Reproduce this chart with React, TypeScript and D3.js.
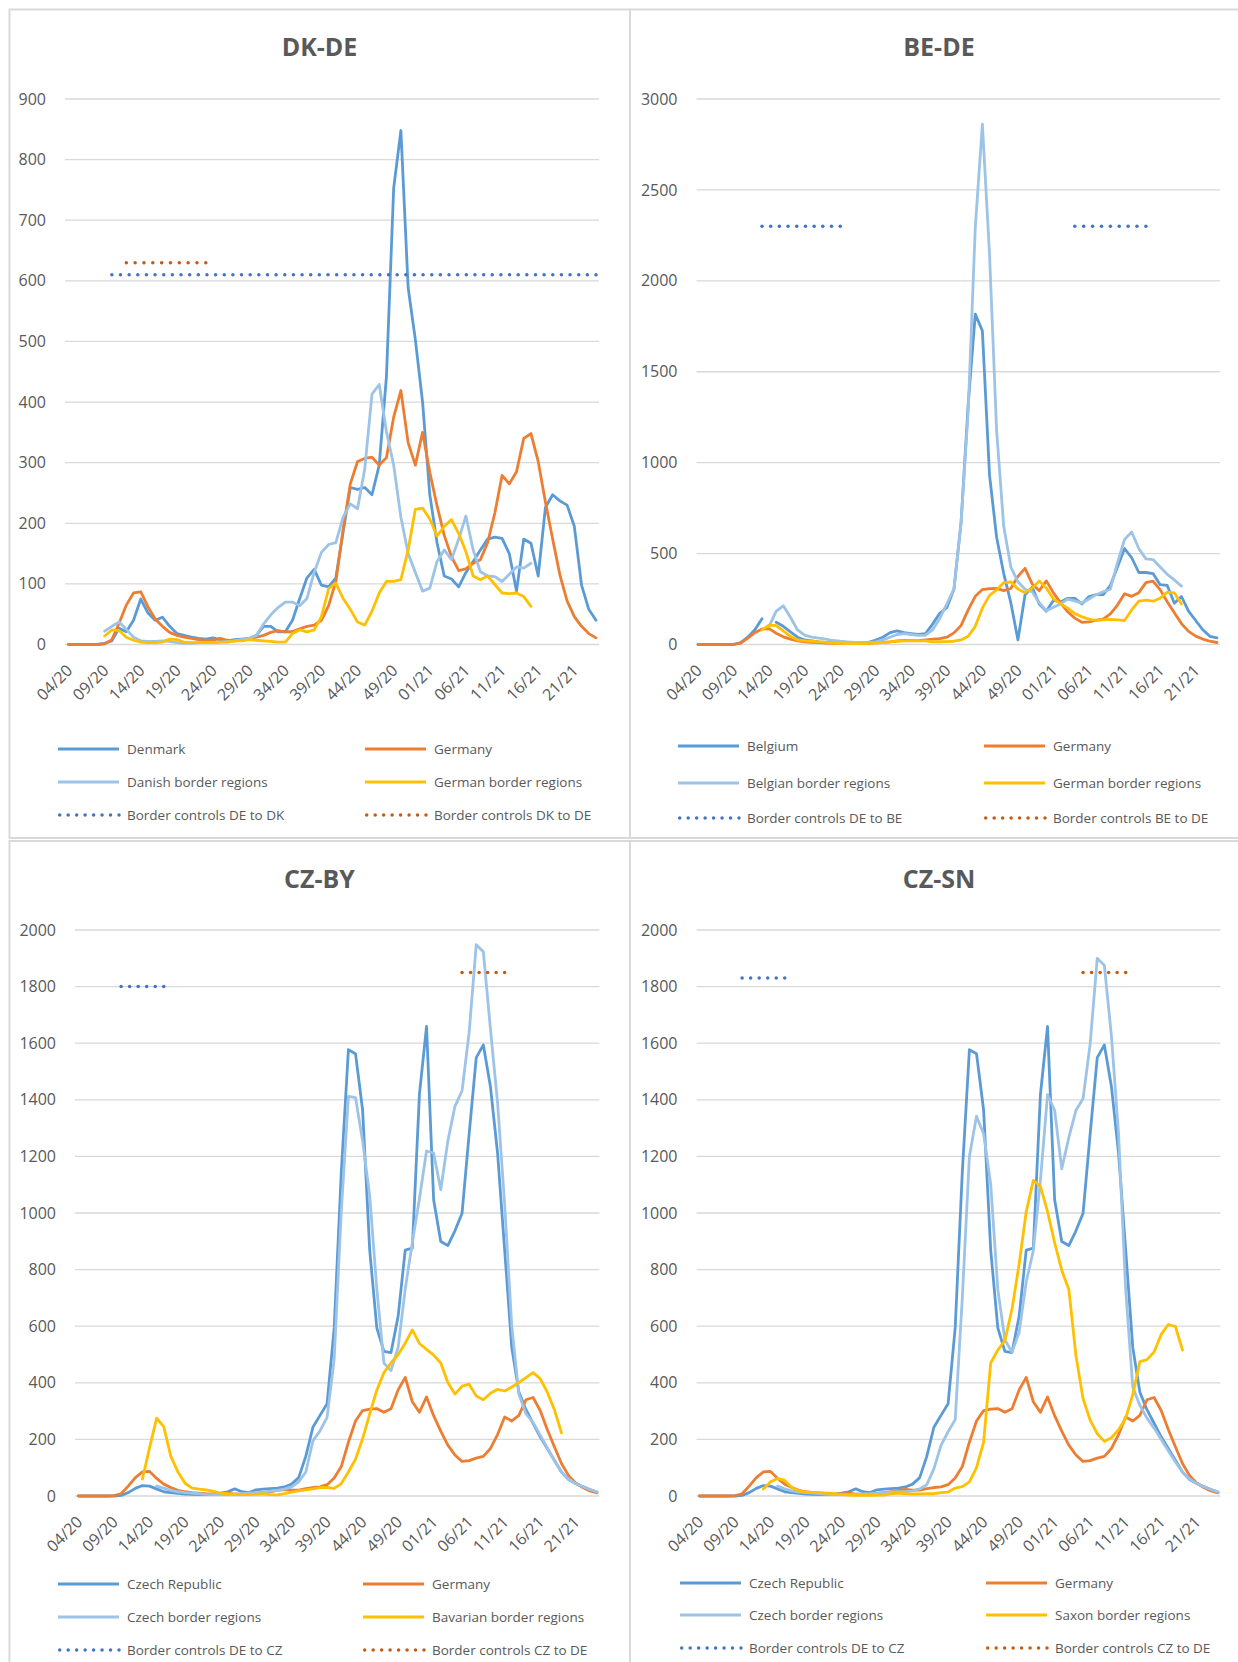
import React from "react";
import * as d3 from "d3";

// week categories (ISO week / year)
const weeks = [
  "04/20", "05/20", "06/20", "07/20", "08/20", "09/20", "10/20", "11/20", "12/20", "13/20",
  "14/20", "15/20", "16/20", "17/20", "18/20", "19/20", "20/20", "21/20", "22/20", "23/20",
  "24/20", "25/20", "26/20", "27/20", "28/20", "29/20", "30/20", "31/20", "32/20", "33/20",
  "34/20", "35/20", "36/20", "37/20", "38/20", "39/20", "40/20", "41/20", "42/20", "43/20",
  "44/20", "45/20", "46/20", "47/20", "48/20", "49/20", "50/20", "51/20", "52/20", "53/20",
  "01/21", "02/21", "03/21", "04/21", "05/21", "06/21", "07/21", "08/21", "09/21", "10/21",
  "11/21", "12/21", "13/21", "14/21", "15/21", "16/21", "17/21", "18/21", "19/21", "20/21",
  "21/21", "22/21", "23/21", "24/21",
];

const tickWeeks = [
  "04/20", "09/20", "14/20", "19/20", "24/20", "29/20", "34/20", "39/20",
  "44/20", "49/20", "01/21", "06/21", "11/21", "16/21", "21/21",
];

// national series
const germany = [
  0, 0, 0, 0, 0, 1, 8, 35, 65, 85,
  87, 62, 42, 30, 20, 15, 12, 10, 8, 7,
  7, 10, 7, 6, 7, 9, 12, 15, 20, 23,
  21, 21, 26, 30, 32, 40, 64, 104, 190, 265,
  302, 307, 309, 296, 308, 375, 419, 333, 296, 350,
  284, 229, 180, 145, 122, 125, 134, 140, 168, 217,
  279, 265, 285, 340, 348, 302, 235, 174, 115, 72,
  46, 30, 18, 11,
];

const denmark = [
  0, 0, 0, 0, 0, 2, 6, 27, 21, 40,
  75, 52, 40, 45, 30, 18, 15, 12, 10, 9,
  11, 8, 6, 8, 9, 10, 15, 30, 30, 21,
  21, 40, 76, 110, 124, 98, 95, 110, 185, 259,
  256, 259, 247, 296, 442, 753, 848, 589, 503, 400,
  247, 168, 113, 108, 95, 119, 137, 156, 174, 177,
  175, 150, 88, 174, 167, 113, 226, 247, 237, 230,
  195, 98, 58, 40,
];

const belgium = [
  0, 0, 0, 0, 0, 0, 10, 40, 81, 142,
  null, 122, 100, 70, 40, 25, 20, 15, 12, 10,
  8, 8, 8, 10, 12, 25, 40, 65, 75, 65,
  60, 55, 60, 112, 172, 203, 304, 670, 1320, 1817,
  1725, 934, 590, 390, 230, 25, 274, 315, 223, 183,
  244, 234, 254, 254, 223, 264, 274, 274, 325, 426,
  528, 477, 396, 396, 390, 329, 325, 227, 264, 183,
  132, 81, 45, 37,
];

const czechRepublic = [
  0, 0, 0, 0, 0, 0, 2, 12, 27, 37,
  35, 25, 15, 12, 9, 7, 6, 5, 5, 6,
  10, 15, 25, 15, 12, 22, 24, 26, 28, 32,
  42, 65, 140, 243, 285, 326, 594, 1144, 1577, 1563,
  1364, 869, 594, 511, 507, 635, 869, 876, 1419, 1659,
  1047, 899, 885, 937, 999, 1280, 1549, 1594, 1446, 1212,
  869, 525, 367, 305, 257, 209, 168, 126, 85, 58,
  44, 33, 23, 14,
];

// border regions
const danishBorder = [
  null, null, null, null, null, 22, 30, 37, 25, 12,
  6, 5, 5, 6, 5, 3, 2, 2, 3, 3,
  3, 4, 5, 6, 8, 10, 15, 34, 49, 61,
  70, 70, 64, 76, 119, 152, 165, 168, 210, 232,
  224, 290, 413, 429, 351, 296, 210, 150, 119, 88,
  93, 137, 156, 140, 174, 212, 156, 120, 113, 112,
  104, 116, 128, 126, 134, null, null, null, null, null,
  null, null, null, null,
];

const germanBorderDk = [
  null, null, null, null, null, 14, 24, 23, 12, 7,
  4, 3, 3, 4, 9, 8, 4, 3, 3, 3,
  3, 4, 4, 6, 6, 8, 7, 6, 5, 4,
  4, 18, 24, 21, 24, 46, 92, 101, 76, 58,
  37, 32, 55, 85, 104, 104, 107, 156, 223, 225,
  207, 179, 195, 206, 183, 153, 113, 107, 113, 99,
  85, 84, 85, 79, 63, null, null, null, null, null,
  null, null, null, null,
];

const belgianBorder = [
  null, null, null, null, null, null, null, null, null, null,
  100, 184, 213, 150, 80, 51, 41, 35, 30, 22,
  18, 15, 12, 10, 10, 15, 25, 40, 55, 60,
  55, 50, 51, 81, 142, 223, 304, 670, 1280, 2293,
  2862, 2150, 1177, 650, 426, 345, 304, 290, 230, 185,
  205, 223, 250, 240, 228, 250, 274, 290, 304, 450,
  578, 619, 528, 471, 467, 426, 386, 355, 321, null,
  null, null, null, null,
];

const germanBorderBe = [
  null, null, null, null, null, null, null, null, null, 80,
  106, 104, 75, 45, 25, 20, 18, 15, 12, 8,
  6, 5, 5, 5, 6, 8, 10, 15, 18, 20,
  20, 20, 20, 15, 15, 16, 18, 25, 45, 100,
  200, 270, 300, 340, 345, 305, 285, 310, 349, 310,
  250, 225, 200, 170, 152, 140, 132, 135, 138, 135,
  132, 190, 238, 244, 238, 254, 288, 284, 223, null,
  null, null, null, null,
];

const czechBorderBy = [
  null, null, null, null, null, null, null, null, null, null,
  null, 35, 28, 20, 15, 12, 10, 8, 6, 5,
  5, 5, 6, 8, 10, 12, 14, 17, 20, 24,
  32, 50, 85, 195, 230, 278, 484, 1006, 1412, 1408,
  1254, 1061, 731, 470, 443, 525, 731, 896, 1050, 1219,
  1212, 1082, 1254, 1377, 1432, 1638, 1948, 1923, 1650, 1390,
  1030, 600, 360, 290, 260, 215, 170, 125, 85, 60,
  44, 33, 23, 14,
];

const bavarianBorder = [
  null, null, null, null, null, null, null, null, null, 60,
  170, 275, 245, 140, 85, 45, 28, 24, 22, 16,
  10, 8, 6, 5, 5, 6, 8, 5, 4, 8,
  14, 18, 22, 25, 30, 30, 27, 44, 85, 130,
  202, 290, 374, 436, 470, 500, 540, 587, 539, 518,
  498, 470, 401, 360, 388, 395, 353, 340, 363, 377,
  371, 385, 401, 418, 436, 415, 367, 305, 223, null,
  null, null, null, null,
];

const czechBorderSn = [
  null, null, null, null, null, null, null, null, null, null,
  null, 35, 25, 18, 14, 12, 10, 8, 6, 5,
  5, 5, 6, 7, 8, 10, 12, 14, 15, 15,
  18, 25, 40, 96, 179, 227, 270, 700, 1200, 1342,
  1280, 1101, 730, 551, 509, 578, 757, 867, 1115, 1418,
  1363, 1156, 1267, 1363, 1404, 1597, 1900, 1875, 1624, 1280,
  730, 385, 320, 275, 240, 200, 160, 120, 85, 60,
  44, 33, 23, 14,
];

const saxonBorder = [
  null, null, null, null, null, null, null, null, null, 25,
  50, 62, 55, 30, 18, 14, 13, 12, 10, 8,
  5, 3, 2, 2, 2, 3, 3, 8, 10, 8,
  7, 7, 8, 8, 12, 14, 28, 33, 50, 100,
  190, 470, 516, 550, 661, 819, 1005, 1115, 1094, 1005,
  895, 798, 730, 496, 344, 268, 220, 193, 206, 234,
  275, 358, 475, 482, 509, 571, 606, 599, 516, null,
  null, null, null, null,
];

// border controls: [from week, to week, plotted level]
const controlsDeToDk = [["10/20", "24/21", 610]];
const controlsDkToDe = [["12/20", "23/20", 630]];
const controlsDeToBe = [["13/20", "24/20", 2300], ["04/21", "14/21", 2300]];
const controlsBeToDe: (string | number)[][] = [];
const controlsDeToCzBy = [["10/20", "16/20", 1800]];
const controlsCzToDeBy = [["05/21", "11/21", 1850]];
const controlsDeToCzSn = [["10/20", "16/20", 1830]];
const controlsCzToDeSn = [["05/21", "11/21", 1850]];

const C = {
  blue: "#5B9BD5",
  orange: "#ED7D31",
  light: "#9DC3E6",
  yellow: "#FFC000",
  dotBlue: "#4472C4",
  dotOrange: "#C55A11",
};

const FONT = "'Open Sans', 'Noto Sans', sans-serif";
const TEXT = "#595959";
const GRID = "#D9D9D9";
const DOT_STEP = 8.7;

const topY: [number, number] = [644.5, 99];
const botY: [number, number] = [1496, 930];

const panels = [
  {
    title: "DK-DE",
    box: [9.5, 9.5, 620.5, 828.5],
    titleXY: [319.5, 56],
    xRange: [68.5, 596],
    gridX: [65, 599],
    yRange: topY,
    yMax: 900,
    yStep: 100,
    legendRows: [749, 782, 815],
    legendCols: [58, 365],
    series: [
      { name: "Denmark", values: denmark, color: C.blue },
      { name: "Germany", values: germany, color: C.orange },
      { name: "Danish border regions", values: danishBorder, color: C.light },
      { name: "German border regions", values: germanBorderDk, color: C.yellow },
    ],
    controls: [
      { name: "Border controls DE to DK", spans: controlsDeToDk, color: C.dotBlue },
      { name: "Border controls DK to DE", spans: controlsDkToDe, color: C.dotOrange },
    ],
  },
  {
    title: "BE-DE",
    box: [630, 9.5, 630, 828.5],
    titleXY: [939, 56],
    xRange: [698, 1217],
    gridX: [696.5, 1220],
    yRange: topY,
    yMax: 3000,
    yStep: 500,
    legendRows: [746, 783, 818],
    legendCols: [678, 984],
    series: [
      { name: "Belgium", values: belgium, color: C.blue },
      { name: "Germany", values: germany, color: C.orange },
      { name: "Belgian border regions", values: belgianBorder, color: C.light },
      { name: "German border regions", values: germanBorderBe, color: C.yellow },
    ],
    controls: [
      { name: "Border controls DE to BE", spans: controlsDeToBe, color: C.dotBlue },
      { name: "Border controls BE to DE", spans: controlsBeToDe, color: C.dotOrange },
    ],
  },
  {
    title: "CZ-BY",
    box: [9.5, 841, 620.5, 840],
    titleXY: [319.5, 888],
    xRange: [78.5, 597],
    gridX: [75, 599.5],
    yRange: botY,
    yMax: 2000,
    yStep: 200,
    legendRows: [1584, 1617, 1650],
    legendCols: [58, 363],
    series: [
      { name: "Czech Republic", values: czechRepublic, color: C.blue },
      { name: "Germany", values: germany, color: C.orange },
      { name: "Czech border regions", values: czechBorderBy, color: C.light },
      { name: "Bavarian border regions", values: bavarianBorder, color: C.yellow },
    ],
    controls: [
      { name: "Border controls DE to CZ", spans: controlsDeToCzBy, color: C.dotBlue },
      { name: "Border controls CZ to DE", spans: controlsCzToDeBy, color: C.dotOrange },
    ],
  },
  {
    title: "CZ-SN",
    box: [630, 841, 630, 840],
    titleXY: [939, 888],
    xRange: [699.5, 1218],
    gridX: [696.5, 1220.5],
    yRange: botY,
    yMax: 2000,
    yStep: 200,
    legendRows: [1583, 1615, 1648],
    legendCols: [680, 986],
    series: [
      { name: "Czech Republic", values: czechRepublic, color: C.blue },
      { name: "Germany", values: germany, color: C.orange },
      { name: "Czech border regions", values: czechBorderSn, color: C.light },
      { name: "Saxon border regions", values: saxonBorder, color: C.yellow },
    ],
    controls: [
      { name: "Border controls DE to CZ", spans: controlsDeToCzSn, color: C.dotBlue },
      { name: "Border controls CZ to DE", spans: controlsCzToDeSn, color: C.dotOrange },
    ],
  },
];

// round-dot line, evenly spaced so both ends get a dot
const DotLine = ({ x1, x2, y, color }: any) => {
  const n = Math.max(1, Math.round((x2 - x1) / DOT_STEP));
  const step = (x2 - x1) / n;
  return (
    <g fill={color}>
      {d3.range(n + 1).map((k) => (
        <circle key={k} cx={x1 + k * step} cy={y} r={1.75} />
      ))}
    </g>
  );
};

const Panel = ({ p }: { p: any }) => {
  const x = d3.scalePoint<string>().domain(weeks).range(p.xRange);
  const y = d3.scaleLinear().domain([0, p.yMax]).range(p.yRange);
  const line = d3
    .line<number | null>()
    .defined((v) => v != null)
    .x((_, i) => x(weeks[i]) as number)
    .y((v) => y(v as number));
  const ticks = d3.range(0, p.yMax + 1, p.yStep);
  const axisY = p.yRange[0];

  const legendItems = [
    ...p.series.map((s: any) => ({ ...s, dotted: false })),
    ...p.controls.map((c: any) => ({ ...c, dotted: true })),
  ];

  return (
    <g fontFamily={FONT}>
      <rect
        x={p.box[0]}
        y={p.box[1]}
        width={p.box[2]}
        height={p.box[3]}
        fill="#fff"
        stroke="#D9D9D9"
        strokeWidth={2}
      />
      <text
        x={p.titleXY[0]}
        y={p.titleXY[1]}
        textAnchor="middle"
        fontSize={25}
        fontWeight="bold"
        fill={TEXT}
      >
        {p.title}
      </text>

      {ticks.map((t: number) => (
        <g key={t}>
          <line
            x1={p.gridX[0]}
            x2={p.gridX[1]}
            y1={y(t)}
            y2={y(t)}
            stroke={GRID}
            strokeWidth={1.3}
          />
          <text
            x={p.gridX[0] - 19}
            y={y(t)}
            dy="0.35em"
            textAnchor="end"
            fontSize={16}
            fill={TEXT}
          >
            {t}
          </text>
        </g>
      ))}

      {tickWeeks.map((w) => {
        const tx = (x(w) as number) + 5;
        const ty = axisY + 27;
        return (
          <text
            key={w}
            transform={`translate(${tx},${ty}) rotate(-45)`}
            textAnchor="end"
            fontSize={16}
            fill={TEXT}
          >
            {w}
          </text>
        );
      })}

      {p.series.map((s: any) => (
        <path
          key={s.name}
          d={line(s.values) || ""}
          fill="none"
          stroke={s.color}
          strokeWidth={2.8}
          strokeLinejoin="round"
          strokeLinecap="round"
        />
      ))}

      {p.controls.map((c: any) =>
        c.spans.map((sp: any[], k: number) => (
          <DotLine
            key={c.name + k}
            x1={x(sp[0])}
            x2={x(sp[1])}
            y={y(sp[2])}
            color={c.color}
          />
        ))
      )}

      {legendItems.map((item: any, k: number) => {
        const lx = p.legendCols[k % 2];
        const ly = p.legendRows[Math.floor(k / 2)];
        return (
          <g key={item.name + k}>
            {item.dotted ? (
              <DotLine x1={lx + 1.7} x2={lx + 61} y={ly} color={item.color} />
            ) : (
              <line
                x1={lx}
                x2={lx + 61}
                y1={ly}
                y2={ly}
                stroke={item.color}
                strokeWidth={2.8}
              />
            )}
            <text x={lx + 69} y={ly} dy="0.35em" fontSize={13.5} fill={TEXT}>
              {item.name}
            </text>
          </g>
        );
      })}
    </g>
  );
};

export default function App() {
  return (
    <>
      <style>{"body{margin:0;background:#fff}"}</style>
      <svg width={1238} height={1662} style={{ display: "block" }}>
        <rect width={1238} height={1662} fill="#fff" />
        {panels.map((p) => (
          <Panel key={p.title} p={p} />
        ))}
      </svg>
    </>
  );
}
